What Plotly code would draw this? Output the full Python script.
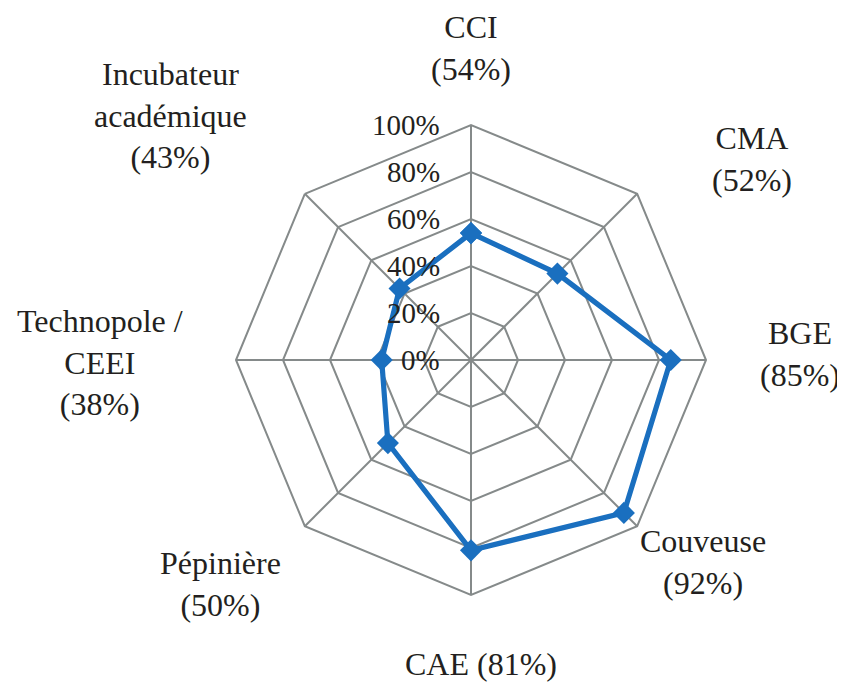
import plotly.graph_objects as go

categories = ["CCI", "CMA", "BGE", "Couveuse", "CAE", "Pépinière",
              "Technopole / CEEI", "Incubateur académique"]
values = [54, 52, 85, 92, 81, 50, 38, 43]
radial_ticks = [0, 20, 40, 60, 80, 100]

GRID = "#858A8A"
BLUE = "#1A6FBF"
TEXT = "#231F20"
FONT = "Times New Roman, Liberation Serif, DejaVu Serif, serif"

W, H = 837, 674          # page body adds an 8px margin
OFF = 8
CX, CY, R = 471 - OFF, 360 - OFF, 235


def px(x, y):
    return x / W, 1 - y / H


# closed polygon
theta = categories + categories[:1]
r = values + values[:1]

fig = go.Figure()
fig.add_trace(go.Scatterpolar(
    r=r, theta=theta,
    mode="lines+markers",
    line=dict(color=BLUE, width=5.2),
    marker=dict(symbol="diamond", size=17, color=BLUE),
    showlegend=False,
))

# category labels placed by hand, as in the original chart
labels = [
    ("CCI<br>(54%)", 471, 48),
    ("CMA<br>(52%)", 752, 159),
    ("BGE<br>(85%)", 800, 354),
    ("Couveuse<br>(92%)", 703, 562),
    ("CAE (81%)", 481, 664),
    ("Pépinière<br>(50%)", 220, 584),
    ("Technopole /<br>CEEI<br>(38%)", 100, 362),
    ("Incubateur<br>académique<br>(43%)", 170, 116),
]
for text, x, y in labels:
    ax, ay = px(x - OFF, y - OFF)
    fig.add_annotation(
        text=text, x=ax, y=ay,
        xref="paper", yref="paper", showarrow=False,
        xanchor="center", yanchor="middle", align="center",
        font=dict(size=32, color=TEXT, family=FONT),
    )

# radial tick labels, left of the top spoke
for t in radial_ticks:
    ax, ay = px(CX - 29, CY - R * t / 100)
    fig.add_annotation(
        text=f"{t}%", x=ax, y=ay,
        xref="paper", yref="paper", showarrow=False,
        xanchor="right", yanchor="middle",
        font=dict(size=29, color=TEXT, family=FONT),
    )

x0, y0 = px(CX - R, CY + R)
x1, y1 = px(CX + R, CY - R)

fig.update_layout(
    width=W, height=H,
    margin=dict(l=0, r=0, t=0, b=0),
    paper_bgcolor="white",
    font=dict(family=FONT, color=TEXT),
    polar=dict(
        domain=dict(x=[x0, x1], y=[y0, y1]),
        bgcolor="white",
        gridshape="linear",
        radialaxis=dict(
            range=[0, 100], tickvals=radial_ticks,
            angle=90, showticklabels=False,
            showline=False, ticks="",
            gridcolor=GRID, gridwidth=2,
        ),
        angularaxis=dict(
            rotation=90, direction="clockwise",
            showticklabels=False, ticks="",
            gridcolor=GRID, gridwidth=2,
            linecolor=GRID, linewidth=2,
        ),
    ),
)

fig.write_html("out.html")
